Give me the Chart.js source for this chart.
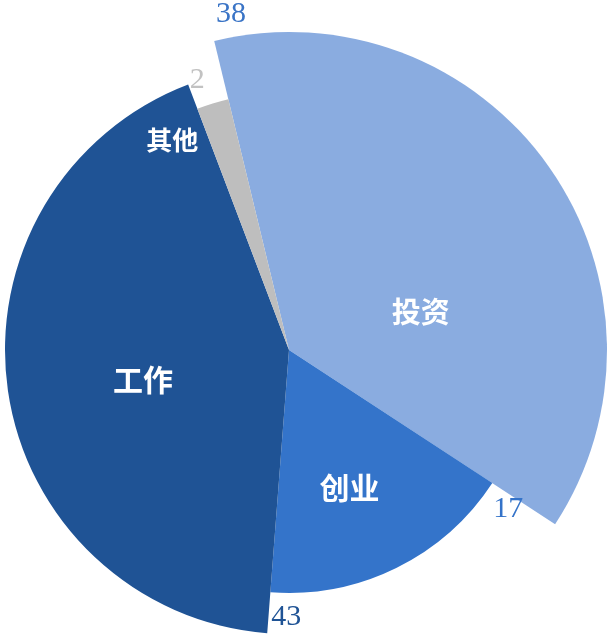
<!DOCTYPE html>
<html>
<head>
<meta charset="utf-8">
<script src="https://cdn.jsdelivr.net/npm/chart.js@4/dist/chart.umd.min.js"></script>
<style>
  html, body { margin: 0; padding: 0; background: #ffffff; }
  #wrap { width: 611px; height: 637px; }
</style>
</head>
<body>
<div id="wrap"><canvas id="myChart" width="611" height="637"></canvas></div>
<script>
// data
const categories = ['投资', '创业', '工作', '其他'];
const values = [38, 17, 43, 2];

// look of each slice
const sliceColors = ['#8AACE0', '#3474CA', '#1F5395', '#BEBEBE'];
const valueColors = ['#3A74C6', '#3473C9', '#1F5395', '#C2C2C2'];
const sliceRadius = [318, 243, 284, 258];

// where the labels sit, relative to each arc
const nameFrac = [0.64, 0.54, 0.48, -1.15];
const nameDist = [137, 150, 149, 240];
const nameSize = [29, 30, 30, 26];
const valueShift = [3.8, 2.8, -3.8, 2.0]; // degrees from the arc start
const valueDist = [341, 271, 267, 285];

const toRad = (d) => d * Math.PI / 180;

// each slice gets its own outer radius
const sliceRadiusPlugin = {
  id: 'sliceRadius',
  beforeDatasetsDraw(chart) {
    const meta = chart.getDatasetMeta(0);
    meta.data.forEach((arc, i) => {
      arc.outerRadius = sliceRadius[i];
    });
  },
};

// category names inside, values outside
const labelPlugin = {
  id: 'pieLabels',
  afterDatasetsDraw(chart) {
    const ctx = chart.ctx;
    const meta = chart.getDatasetMeta(0);
    ctx.save();
    ctx.textAlign = 'center';
    ctx.textBaseline = 'middle';
    meta.data.forEach((arc, i) => {
      const span = arc.endAngle - arc.startAngle;

      const a1 = arc.startAngle + span * nameFrac[i];
      ctx.fillStyle = '#ffffff';
      ctx.font = 'bold ' + nameSize[i] + 'px "Noto Sans CJK SC", "Noto Sans", sans-serif';
      ctx.fillText(categories[i], arc.x + Math.cos(a1) * nameDist[i], arc.y + Math.sin(a1) * nameDist[i]);

      const a2 = arc.startAngle + toRad(valueShift[i]);
      ctx.fillStyle = valueColors[i];
      ctx.font = '30px "Liberation Serif", "DejaVu Serif", serif';
      ctx.fillText(String(values[i]), arc.x + Math.cos(a2) * valueDist[i], arc.y + Math.sin(a2) * valueDist[i]);
    });
    ctx.restore();
  },
};

const ctx = document.getElementById('myChart').getContext('2d');
new Chart(ctx, {
  type: 'pie',
  data: {
    labels: categories,
    datasets: [
      {
        data: values,
        backgroundColor: sliceColors,
        borderWidth: 0,
        clip: false,
      },
    ],
  },
  options: {
    responsive: false,
    animation: false,
    events: [],
    rotation: -13.6,
    radius: 284,
    layout: { padding: { left: 0, right: 33, top: 63, bottom: 0 } },
    plugins: {
      legend: { display: false },
      tooltip: { enabled: false },
    },
  },
  plugins: [sliceRadiusPlugin, labelPlugin],
});
</script>
</body>
</html>
